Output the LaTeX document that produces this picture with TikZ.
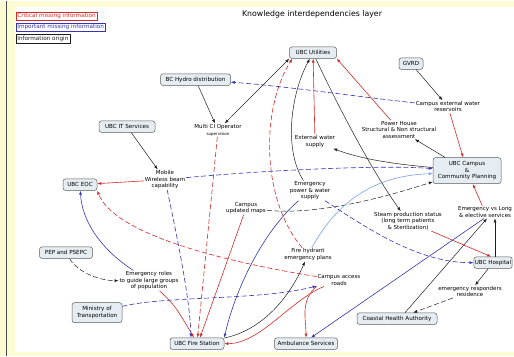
\documentclass[tikz,border=0pt]{standalone}
\usepackage{fontspec}
\setmainfont{DejaVu Sans}
\usetikzlibrary{arrows.meta,calc}
\definecolor{bgyellow}{HTML}{FCFCD2}
\definecolor{boxfill}{HTML}{E6EDF2}
\definecolor{boxline}{HTML}{5A5A5A}
\definecolor{critred}{HTML}{D42A2A}
\definecolor{impblue}{HTML}{3434B4}
\definecolor{lightblue}{HTML}{7C9EE6}
\definecolor{origin}{HTML}{1E1E1E}
\tikzset{
  box/.style={draw=boxline, fill=boxfill, rounded corners=2.5pt, line width=0.5pt,
    minimum height=11.5pt, inner sep=1pt, align=center, font=\fontsize{5.6}{6.6}\selectfont},
  txt/.style={inner sep=0.8pt, align=center, font=\fontsize{5.5}{6.5}\selectfont},
  legbox/.style={draw, line width=0.5pt, anchor=west, inner sep=1.6pt, fill=white,
    font=\fontsize{5.7}{6.5}\selectfont},
  tip/.style={-{Latex[length=4pt,width=3pt]}},
  blk/.style={tip, draw=origin, line width=0.5pt},
  crit/.style={tip, draw=critred, line width=0.6pt},
  imp/.style={tip, draw=impblue, line width=0.6pt},
  dsh/.style={dash pattern=on 5pt off 2.5pt}
}
\begin{document}
\begin{tikzpicture}[x=1pt,y=-1pt]
\fill[bgyellow] (0,0) rectangle (514,355);
\fill[white] (15,6) rectangle (514,351);
\draw[origin!80, line width=1.3pt] (6.5,0) -- (6.5,355);
\useasboundingbox (0,0) rectangle (514,355);

% legend and title
\node[legbox, draw=critred, text=critred] (leg1) at (15.5,15.5) {Critical missing information};
\node[legbox, draw=impblue, text=impblue] (leg2) at (15.5,26.5) {Important missing information};
\node[legbox, draw=origin, text=origin] (leg3) at (15.5,37.8) {Information origin};
\node[font=\fontsize{7.8}{9}\selectfont] (title) at (312,14) {Knowledge interdependencies layer};

% boxed nodes
\node[box, minimum width=47pt] (util) at (313,52) {UBC Utilities};
\node[box, minimum width=70pt] (hydro) at (195.5,79) {BC Hydro distribution};
\node[box, minimum width=24pt] (gvrd) at (411,63) {GVRD};
\node[box, minimum width=56pt] (itserv) at (127,126) {UBC IT Services};
\node[box, minimum width=34pt] (eoc) at (80,184) {UBC EOC};
\node[box, minimum width=53pt] (pep) at (66,252) {PEP and PSEPC};
\node[box, minimum width=50pt, minimum height=20pt] (mot) at (97,312) {Ministry of\\Transportation};
\node[box, minimum width=54pt] (fire) at (197,343) {UBC Fire Station};
\node[box, minimum width=63pt] (amb) at (306,343) {Ambulance Services};
\node[box, minimum width=80pt] (coast) at (397,318) {Coastal Health Authority};
\node[box, minimum width=38pt] (hosp) at (493,262) {UBC Hospital};
\node[box, minimum width=68pt, minimum height=26pt] (ccp) at (467,170) {UBC Campus\\\&\\Community Planning};

% text nodes
\node[txt] (res) at (448,106) {Campus external water\\reservoirs};
\node[txt] (power) at (399,129) {Power House\\Structural \& Non structural\\assessment};
\node[txt] (multi) at (218,129.5) {Multi CI Operator\\{\fontsize{4}{4.6}\selectfont supervision}};
\node[txt] (extw) at (315,141) {External water\\supply};
\node[txt] (mob) at (165,179) {Mobile\\Wireless beam\\capability};
\node[txt] (emp) at (310,190) {Emergency\\power \& water\\supply};
\node[txt] (maps) at (246,207.5) {Campus\\updated maps};
\node[txt] (steam) at (408,220.5) {Steam production status\\(long term patients\\\& Sterilization)};
\node[txt] (evl) at (485,211.5) {Emergency vs Long\\\& elective services};
\node[txt] (hyd) at (308,254) {Fire hydrant\\emergency plans};
\node[txt] (roads) at (339,279.5) {Campus access\\roads};
\node[txt] (roles) at (149,280) {Emergency roles\\to guide large groups\\of population};
\node[txt] (resp) at (470,291) {emergency responders\\residence};

% information origin (black)
\draw[blk] (gvrd) -- (res);
\draw[blk] (hydro) -- (multi);
\draw[blk, {Latex[length=4pt,width=3pt]}-{Latex[length=4pt,width=3pt]}] (multi) -- (util.south west);
\draw[blk] (itserv) -- (mob);
\draw[blk] (util) .. controls (340,110) and (375,175) .. (steam);
\draw[blk] (emp) .. controls (284,150) and (290,95) .. (util);
\draw[blk] (ccp) -- (power);
\draw[blk] (ccp) .. controls (390,163) and (360,158) .. (extw);
\draw[blk, dsh] (maps) .. controls (320,215) and (390,195) .. (ccp);
\draw[blk, dsh] (pep) .. controls (78,272) and (100,280) .. (roles);
\draw[blk] (fire) .. controls (260,330) and (288,300) .. (hyd);
\draw[blk] (hosp) -- (resp);
\draw[blk, dsh] (resp) -- (coast);
\draw[blk] ($(coast.north)+(8,0)$) -- ($(evl.south)+(2,0)$);
\draw[blk] ($(hosp.north)+(2,0)$) -- ($(hosp.north |- evl.south)+(2,0)$);

% critical missing information (red)
\draw[crit] (mob) -- (eoc);
\draw[crit] (res) -- (ccp);
\draw[crit] (power) -- (util.south east);
\draw[crit] (extw) -- (util);
\draw[crit, dsh] (hyd) .. controls (262,200) and (260,110) .. ($(util.south west)+(3,0)$);
\draw[crit, dsh] (multi) -- (fire);
\draw[crit] (maps) -- ($(fire.north)+(3,0)$);
\draw[crit] (roles) .. controls (175,305) .. ($(fire.north)+(-3,0)$);
\draw[crit, dsh] (roads) .. controls (230,262) and (115,235) .. (eoc.south east);
\draw[crit] (roads) .. controls (290,300) and (260,343) .. (fire);
\draw[crit] (roads.south west) .. controls (300,300) and (306,318) .. (amb);
\draw[crit] (evl) -- (ccp);
\draw[crit] (steam) -- ($(hosp.north)+(-2,0)$);

% important missing information (blue)
\draw[imp, dsh] (res) .. controls (350,95) and (280,85) .. (hydro);
\draw[imp, dsh] (mob) .. controls (260,170) and (380,164) .. ($(ccp.west)+(0,-2)$);
\draw[imp, draw=lightblue] (hyd) .. controls (335,205) and (370,175) .. ($(ccp.west)+(0,3)$);
\draw[imp, dsh] (mob) .. controls (178,240) and (190,300) .. ($(fire.north)+(-6,0)$);
\draw[imp] (roles) .. controls (100,248) and (82,220) .. (eoc);
\draw[imp, dsh] (mot) .. controls (165,295) and (260,300) .. (roads);
\draw[imp] (emp) .. controls (262,232) and (235,290) .. (fire.north east);
\draw[imp, dsh] (emp) .. controls (370,230) and (420,262) .. (hosp);
\draw[imp] ($(evl.south)+(-1,0)$) -- ($(amb.north)+(5,0)$);
\end{tikzpicture}
\end{document}
